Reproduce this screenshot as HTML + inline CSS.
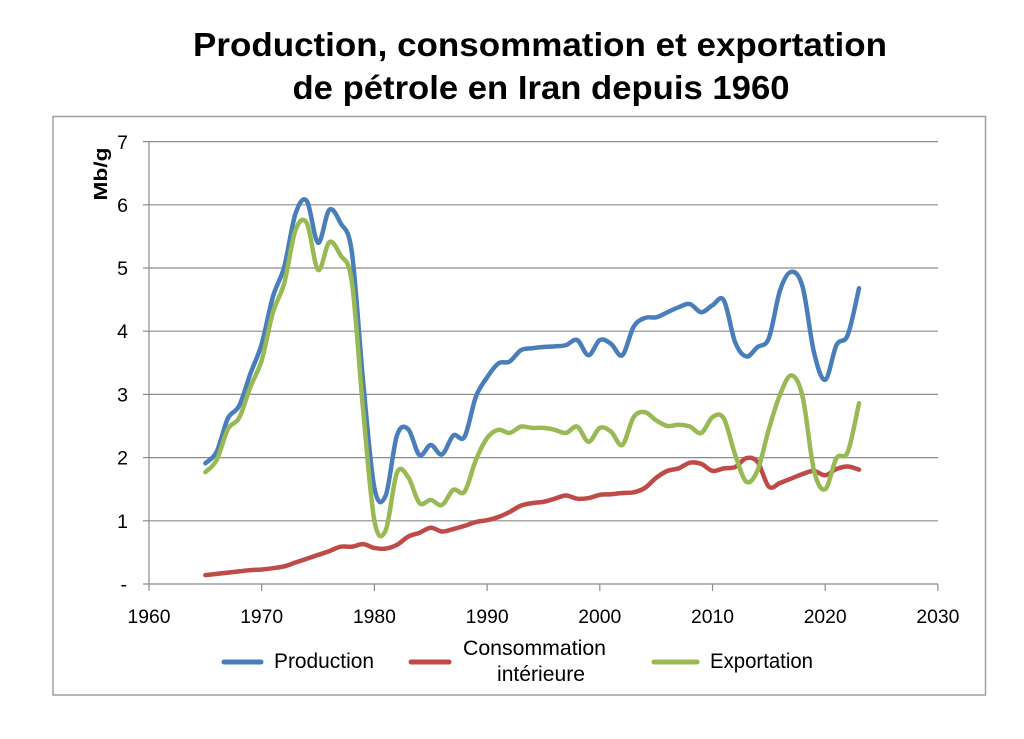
<!DOCTYPE html>
<html>
<head>
<meta charset="utf-8">
<style>
html,body{margin:0;padding:0;background:#fff;}
svg{display:block;}
text{font-family:"Liberation Sans",Arial,sans-serif;fill:#000;}
</style>
</head>
<body>
<svg width="1024" height="739" viewBox="0 0 1024 739" xmlns="http://www.w3.org/2000/svg">
<rect x="0" y="0" width="1024" height="739" fill="#fff"/>
<!-- Title -->
<text x="540" y="56" font-size="33" font-weight="bold" text-anchor="middle" textLength="694" lengthAdjust="spacingAndGlyphs">Production, consommation et exportation</text>
<text x="541" y="99" font-size="33" font-weight="bold" text-anchor="middle" textLength="497" lengthAdjust="spacingAndGlyphs">de pétrole en Iran depuis 1960</text>
<!-- Chart border -->
<rect x="53" y="116.5" width="932.5" height="578.5" fill="none" stroke="#a0a0a0" stroke-width="1.5"/>
<!-- Gridlines -->
<g stroke="#8c8c8c" stroke-width="1.2">
<line x1="149" y1="141.6" x2="938" y2="141.6"/>
<line x1="149" y1="204.8" x2="938" y2="204.8"/>
<line x1="149" y1="268" x2="938" y2="268"/>
<line x1="149" y1="331.2" x2="938" y2="331.2"/>
<line x1="149" y1="394.4" x2="938" y2="394.4"/>
<line x1="149" y1="457.6" x2="938" y2="457.6"/>
<line x1="149" y1="520.8" x2="938" y2="520.8"/>
<!-- axes -->
<line x1="149" y1="141" x2="149" y2="584"/>
<line x1="143" y1="584" x2="938" y2="584"/>
<!-- y ticks -->
<line x1="143" y1="141.6" x2="149" y2="141.6"/>
<line x1="143" y1="204.8" x2="149" y2="204.8"/>
<line x1="143" y1="268" x2="149" y2="268"/>
<line x1="143" y1="331.2" x2="149" y2="331.2"/>
<line x1="143" y1="394.4" x2="149" y2="394.4"/>
<line x1="143" y1="457.6" x2="149" y2="457.6"/>
<line x1="143" y1="520.8" x2="149" y2="520.8"/>
<!-- x ticks -->
<line x1="149" y1="584" x2="149" y2="591"/>
<line x1="261.7" y1="584" x2="261.7" y2="591"/>
<line x1="374.4" y1="584" x2="374.4" y2="591"/>
<line x1="487.1" y1="584" x2="487.1" y2="591"/>
<line x1="599.8" y1="584" x2="599.8" y2="591"/>
<line x1="712.5" y1="584" x2="712.5" y2="591"/>
<line x1="825.2" y1="584" x2="825.2" y2="591"/>
<line x1="937.9" y1="584" x2="937.9" y2="591"/>
</g>
<!-- Y labels -->
<g font-size="19.5" text-anchor="end">
<text x="128" y="149">7</text>
<text x="128" y="212">6</text>
<text x="128" y="275">5</text>
<text x="128" y="338">4</text>
<text x="128" y="401.5">3</text>
<text x="128" y="464.5">2</text>
<text x="128" y="528">1</text>
<text x="127" y="591">-</text>
</g>
<!-- Y title -->
<text transform="translate(107,174) rotate(-90)" font-size="18" font-weight="bold" text-anchor="middle" textLength="53" lengthAdjust="spacingAndGlyphs">Mb/g</text>
<!-- X labels -->
<g font-size="19.5" text-anchor="middle">
<text x="149" y="623" textLength="43" lengthAdjust="spacingAndGlyphs">1960</text>
<text x="261.7" y="623" textLength="43" lengthAdjust="spacingAndGlyphs">1970</text>
<text x="374.4" y="623" textLength="43" lengthAdjust="spacingAndGlyphs">1980</text>
<text x="487.1" y="623" textLength="43" lengthAdjust="spacingAndGlyphs">1990</text>
<text x="599.8" y="623" textLength="43" lengthAdjust="spacingAndGlyphs">2000</text>
<text x="712.5" y="623" textLength="43" lengthAdjust="spacingAndGlyphs">2010</text>
<text x="825.2" y="623" textLength="43" lengthAdjust="spacingAndGlyphs">2020</text>
<text x="937.9" y="623" textLength="43" lengthAdjust="spacingAndGlyphs">2030</text>
</g>
<!-- Series -->
<g transform="translate(149,584) scale(11.27,-63.2)" fill="none" stroke-linejoin="round" stroke-linecap="round">
<polyline class="s" vector-effect="non-scaling-stroke" stroke="#be4b48" stroke-width="4.5" points="5,0.14 6,0.16 7,0.18 8,0.20 9,0.22 10,0.23 11,0.25 12,0.28 13,0.34 14,0.40 15,0.46 16,0.52 17,0.59 18,0.59 19,0.63 20,0.57 21,0.56 22,0.62 23,0.75 24,0.81 25,0.89 26,0.83 27,0.87 28,0.92 29,0.98 30,1.01 31,1.06 32,1.14 33,1.24 34,1.28 35,1.30 36,1.35 37,1.40 38,1.35 39,1.36 40,1.41 41,1.42 42,1.44 43,1.45 44,1.52 45,1.68 46,1.79 47,1.83 48,1.92 49,1.90 50,1.79 51,1.83 52,1.85 53,1.99 54,1.93 55,1.54 56,1.60 57,1.67 58,1.74 59,1.79 60,1.72 61,1.82 62,1.86 63,1.81"/>
<polyline class="s" vector-effect="non-scaling-stroke" stroke="#4a7ebb" stroke-width="4.5" points="5,1.91 6,2.09 7,2.62 8,2.82 9,3.33 10,3.80 11,4.55 12,5.02 13,5.86 14,6.06 15,5.40 16,5.92 17,5.71 18,5.25 19,3.20 20,1.52 21,1.40 22,2.35 23,2.45 24,2.04 25,2.20 26,2.05 27,2.35 28,2.33 29,2.96 30,3.27 31,3.49 32,3.52 33,3.70 34,3.73 35,3.75 36,3.76 37,3.78 38,3.86 39,3.62 40,3.86 41,3.80 42,3.62 43,4.07 44,4.21 45,4.22 46,4.30 47,4.38 48,4.43 49,4.30 50,4.41 51,4.49 52,3.83 53,3.60 54,3.75 55,3.89 56,4.65 57,4.94 58,4.70 59,3.67 60,3.23 61,3.78 62,3.94 63,4.68"/>
<polyline class="s" vector-effect="non-scaling-stroke" stroke="#98b954" stroke-width="4.5" points="5,1.77 6,1.96 7,2.45 8,2.63 9,3.12 10,3.54 11,4.30 12,4.76 13,5.60 14,5.71 15,4.97 16,5.41 17,5.20 18,4.78 19,2.75 20,1.00 21,0.85 22,1.76 23,1.69 24,1.28 25,1.33 26,1.25 27,1.49 28,1.46 29,1.96 30,2.31 31,2.44 32,2.39 33,2.49 34,2.47 35,2.47 36,2.44 37,2.39 38,2.49 39,2.25 40,2.47 41,2.41 42,2.20 43,2.64 44,2.72 45,2.59 46,2.50 47,2.52 48,2.49 49,2.39 50,2.64 51,2.62 52,2.05 53,1.62 54,1.80 55,2.45 56,3.00 57,3.30 58,2.96 59,1.80 60,1.50 61,1.99 62,2.09 63,2.86"/>
</g>
<!-- Legend -->
<line x1="224" y1="662" x2="261" y2="662" stroke="#4a7ebb" stroke-width="5" stroke-linecap="round"/>
<text x="274" y="668" font-size="21" textLength="100" lengthAdjust="spacingAndGlyphs">Production</text>
<line x1="411" y1="662" x2="449" y2="662" stroke="#be4b48" stroke-width="5" stroke-linecap="round"/>
<text x="534.5" y="655" font-size="21" text-anchor="middle" textLength="143" lengthAdjust="spacingAndGlyphs">Consommation</text>
<text x="541" y="681" font-size="21" text-anchor="middle" textLength="88" lengthAdjust="spacingAndGlyphs">intérieure</text>
<line x1="654" y1="662" x2="697" y2="662" stroke="#98b954" stroke-width="5" stroke-linecap="round"/>
<text x="710" y="668" font-size="21" textLength="103" lengthAdjust="spacingAndGlyphs">Exportation</text>
</svg>
<script>
(function(){
try{
var pls=document.querySelectorAll('polyline.s');
for(var k=0;k<pls.length;k++){
var pl=pls[k];
var raw=pl.getAttribute('points').trim().split(/\s+/);
var pts=[];
for(var j=0;j<raw.length;j++){var a=raw[j].split(',');pts.push([parseFloat(a[0]),parseFloat(a[1])]);}
var d='M'+pts[0][0]+','+pts[0][1];
for(var i=0;i<pts.length-1;i++){
var p0=pts[i-1]||pts[i],p1=pts[i],p2=pts[i+1],p3=pts[i+2]||pts[i+1];
var c1x=p1[0]+(p2[0]-p0[0])/6,c1y=p1[1]+(p2[1]-p0[1])/6;
var c2x=p2[0]-(p3[0]-p1[0])/6,c2y=p2[1]-(p3[1]-p1[1])/6;
d+=' C'+c1x.toFixed(4)+','+c1y.toFixed(4)+' '+c2x.toFixed(4)+','+c2y.toFixed(4)+' '+p2[0]+','+p2[1];
}
var path=document.createElementNS('http://www.w3.org/2000/svg','path');
path.setAttribute('d',d);
path.setAttribute('fill','none');
path.setAttribute('stroke',pl.getAttribute('stroke'));
path.setAttribute('stroke-width',pl.getAttribute('stroke-width'));
path.setAttribute('vector-effect','non-scaling-stroke');
path.setAttribute('stroke-linejoin','round');
path.setAttribute('stroke-linecap','round');
pl.parentNode.replaceChild(path,pl);
}
}catch(e){}
})();
</script>
</body>
</html>
